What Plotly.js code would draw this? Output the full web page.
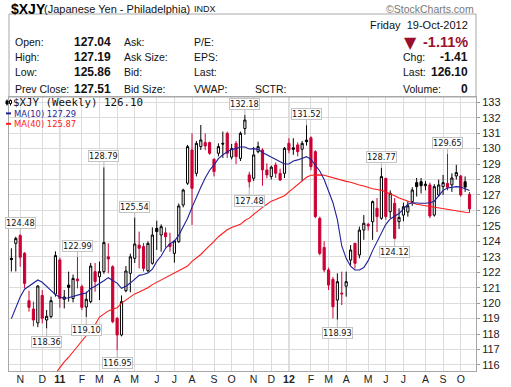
<!DOCTYPE html>
<html><head><meta charset="utf-8">
<script src="https://cdn.plot.ly/plotly-3.0.1.min.js"></script>
<style>html,body{margin:0;padding:0;background:#fff;overflow:hidden}</style>
</head><body><div id="chart" style="width:511px;height:387px"></div>
<script>
// ---- data ----
const weeks = [
'2010-10-22','2010-10-29','2010-11-05','2010-11-12','2010-11-19','2010-11-26','2010-12-03','2010-12-10','2010-12-17','2010-12-24','2010-12-31',
'2011-01-07','2011-01-14','2011-01-21','2011-01-28','2011-02-04','2011-02-11','2011-02-18','2011-02-25','2011-03-04','2011-03-11','2011-03-18','2011-03-25',
'2011-04-01','2011-04-08','2011-04-15','2011-04-22','2011-04-29','2011-05-06','2011-05-13','2011-05-20','2011-05-27','2011-06-03','2011-06-10','2011-06-17','2011-06-24',
'2011-07-01','2011-07-08','2011-07-15','2011-07-22','2011-07-29','2011-08-05','2011-08-12','2011-08-19','2011-08-26','2011-09-02','2011-09-09','2011-09-16','2011-09-23','2011-09-30',
'2011-10-07','2011-10-14','2011-10-21','2011-10-28','2011-11-04','2011-11-11','2011-11-18','2011-11-25','2011-12-02','2011-12-09','2011-12-16','2011-12-23','2011-12-30',
'2012-01-06','2012-01-13','2012-01-20','2012-01-27','2012-02-03','2012-02-10','2012-02-17','2012-02-24','2012-03-02','2012-03-09','2012-03-16','2012-03-23','2012-03-30',
'2012-04-06','2012-04-13','2012-04-20','2012-04-27','2012-05-04','2012-05-11','2012-05-18','2012-05-25','2012-06-01','2012-06-08','2012-06-15','2012-06-22','2012-06-29',
'2012-07-06','2012-07-13','2012-07-20','2012-07-27','2012-08-03','2012-08-10','2012-08-17','2012-08-24','2012-08-31','2012-09-07','2012-09-14','2012-09-21','2012-09-28',
'2012-10-05','2012-10-12','2012-10-19'];

const open = [
122.90,123.87,124.37,123.23,120.16,119.62,118.72,120.50,118.91,119.13,120.59,
122.80,120.25,121.17,120.30,121.56,121.07,119.75,120.10,122.04,121.71,122.04,123.00,
122.36,119.02,117.94,120.81,121.93,122.90,123.76,123.66,122.10,122.58,124.84,124.41,124.55,
123.83,123.22,123.98,126.35,127.76,129.91,128.40,130.13,130.39,130.39,129.31,129.70,130.34,130.99,
129.45,130.34,129.37,131.30,128.30,128.08,129.80,129.91,128.62,128.19,128.94,128.40,128.40,
130.34,130.05,130.24,129.96,130.55,130.70,129.80,125.49,123.60,122.15,121.54,120.20,120.65,
121.10,122.79,123.87,123.12,124.73,125.10,125.27,126.14,125.49,128.08,125.92,126.46,125.27,
125.70,125.90,126.57,127.80,127.86,127.60,127.65,125.70,127.00,127.54,127.75,127.65,128.23,
128.23,127.86,127.04];
const high = [
123.55,124.30,124.48,123.30,120.81,120.10,121.15,120.85,119.56,120.42,123.35,
122.95,120.85,122.04,121.85,122.99,121.20,120.75,122.60,122.60,122.69,128.79,123.87,
122.45,119.10,120.50,122.40,123.20,125.54,124.63,123.90,124.00,124.90,125.34,125.10,124.90,
124.56,124.09,126.45,127.40,130.24,130.99,130.50,131.53,130.99,130.45,129.37,130.34,131.10,131.10,
130.30,130.50,131.10,132.18,128.50,130.10,130.45,130.02,129.05,128.90,129.10,128.70,130.10,
130.67,130.67,130.40,130.50,131.52,130.80,129.90,125.60,124.00,122.30,121.70,121.93,122.04,
122.04,123.76,123.90,124.95,125.70,125.20,126.64,126.80,128.77,128.10,127.30,126.80,126.14,
126.50,126.60,127.50,128.10,128.10,127.90,127.80,127.70,128.00,128.30,129.65,128.40,128.95,
128.30,128.20,127.19];
const low = [
122.05,122.05,122.36,120.96,119.45,118.50,118.45,118.69,118.36,119.02,120.42,
119.70,119.66,120.10,120.05,120.96,119.55,119.10,120.00,120.74,120.20,121.90,121.93,
118.70,116.95,117.85,120.70,120.70,122.60,122.25,122.05,122.00,122.50,123.44,123.33,123.60,
123.33,122.62,123.90,126.20,127.65,125.06,128.20,129.91,129.90,129.60,128.20,129.50,129.40,129.40,
129.30,129.00,129.20,130.90,127.48,127.90,129.70,127.60,128.08,128.00,128.10,127.90,128.10,
129.70,129.60,129.50,127.90,130.20,128.60,125.50,123.10,122.00,120.85,119.02,118.93,119.88,
120.42,122.47,122.25,122.90,124.10,124.70,124.10,124.60,125.40,125.40,125.50,124.12,124.80,
125.30,125.60,126.30,126.90,127.10,127.30,125.50,125.60,126.90,127.00,127.30,127.20,128.00,
126.90,127.20,125.86];
const close = [
122.82,124.19,122.97,121.28,119.73,118.91,121.11,119.02,119.15,120.16,123.08,
120.31,120.40,121.02,121.60,121.45,119.73,120.25,122.40,121.40,122.04,123.92,122.86,
118.80,117.94,120.10,122.08,123.00,123.83,123.55,122.25,123.87,124.41,124.63,124.95,124.30,
123.66,124.02,126.29,127.32,130.13,127.43,130.34,130.56,130.17,129.70,128.51,130.13,130.30,129.70,
130.00,129.48,130.99,131.85,127.85,129.59,130.13,128.62,128.30,128.80,128.40,127.97,130.02,
129.91,129.96,129.80,130.34,130.45,128.83,125.60,123.22,122.15,121.17,119.77,121.39,120.60,
121.39,123.44,122.58,124.73,125.17,125.00,126.57,125.60,128.19,125.60,127.11,124.20,125.55,
126.24,126.30,127.32,127.54,127.60,127.70,125.64,127.54,127.65,127.80,127.50,128.10,128.45,
127.00,127.51,126.10];
const prevCloseBeforeFirst = 122.5;

const ma10 = [
119.0,119.7,120.4,120.9,121.1,121.3,121.5,121.35,121.1,120.85,120.55,
120.4,120.3,120.35,120.45,120.5,120.6,120.65,120.95,121.1,121.25,121.45,121.65,
121.5,121.3,120.96,121.1,121.3,121.55,121.8,121.85,121.95,122.2,122.7,123.05,123.55,
123.85,124.0,124.4,124.95,125.5,126.2,126.9,127.5,128.1,128.6,128.95,129.35,129.6,129.8,
129.95,130.0,130.1,130.1,129.98,130.0,129.95,129.75,129.6,129.4,129.25,129.15,129.0,
129.0,129.2,129.27,129.35,129.48,129.3,128.9,128.55,128.0,127.3,126.5,125.4,123.7,
122.9,122.4,122.15,122.15,122.3,122.75,123.4,124.0,124.5,125.1,125.45,125.65,125.8,
126.1,126.4,126.5,126.46,126.46,126.46,126.5,126.6,126.95,127.3,127.45,127.5,127.54,
127.52,127.42,127.29];
const ma40 = [
null,null,null,null,null,null,null,null,null,null,115.45,
115.85,116.2,116.5,116.85,117.2,117.5,117.85,118.25,118.6,119.1,119.3,119.5,
119.6,119.7,120.0,120.2,120.42,120.6,120.72,120.85,121.0,121.2,121.35,121.45,121.6,
121.8,121.95,122.1,122.25,122.4,122.7,122.9,123.15,123.45,123.7,124.0,124.3,124.55,124.75,
124.9,125.0,125.1,125.35,125.5,125.75,126.0,126.2,126.4,126.6,126.7,126.8,126.95,
127.2,127.45,127.7,127.95,128.15,128.28,128.3,128.3,128.28,128.2,128.1,128.0,127.95,
127.88,127.82,127.72,127.65,127.58,127.47,127.4,127.35,127.3,127.2,127.1,126.95,126.8,
126.7,126.58,126.48,126.4,126.35,126.3,126.24,126.2,126.15,126.1,126.04,126.0,125.95,
125.92,125.88,125.87];

// labelled highs / lows: index into weeks, which side
const labelIndex = [2, 8, 15, 17, 21, 24, 28, 53, 54, 67, 74, 84, 87, 99];
const labelSide  = ['high','low','high','low','high','low','high','high','low','high','low','high','low','high'];

const monthTickVals = ['2010-11-05','2010-12-10','2011-01-07','2011-02-11','2011-03-11','2011-04-08','2011-05-06','2011-06-10','2011-07-08','2011-08-05','2011-09-09','2011-10-07','2011-11-11','2011-12-09','2012-01-06','2012-02-10','2012-03-09','2012-04-06','2012-05-11','2012-06-08','2012-07-06','2012-08-10','2012-09-07','2012-10-05'];
const monthTickText = ['N','D','<b>11</b>','F','M','A','M','J','J','A','S','O','N','D','<b>12</b>','F','M','A','M','J','J','A','S','O'];
const yearTickVals = ['2011-01-07','2012-01-06'];

const headerTitle = '$XJY', headerName = '(Japanese Yen - Philadelphia)', headerExch = 'INDX';
const headerDate = 'Friday  19-Oct-2012';
const col1Labels = ['Open:','High:','Low:','Prev Close:'];
const col1Values = ['127.04','127.19','125.86','127.51'];
const col2Labels = ['Ask:','Ask Size:','Bid:','Bid Size:'];
const col3Labels = ['P/E:','EPS:','Last:','VWAP:'];
const pctChange = '-1.11%';
const rightLabels = ['Chg:','Last:','Volume:'];
const rightValues = ['-1.41','126.10','0'];
const legendMain = '$XJY (Weekly) 126.10';
const legendMA10 = 'MA(10) 127.29';
const legendMA40 = 'MA(40) 125.87';

// ---- build ----
const RED = '#cc0033', BLACK = '#000000';
const idxBlack = [], idxRed = [];
close.forEach((c, i) => {
  const pc = i === 0 ? prevCloseBeforeFirst : close[i - 1];
  (c >= pc ? idxBlack : idxRed).push(i);
});
const pick = (arr, idx) => idx.map(i => arr[i]);
function candleTrace(idx, color) {
  return {
    type: 'candlestick', x: pick(weeks, idx), open: pick(open, idx), high: pick(high, idx),
    low: pick(low, idx), close: pick(close, idx), whiskerwidth: 0, line: {width: 1},
    increasing: {line: {color: color, width: 1}, fillcolor: '#ffffff'},
    decreasing: {line: {color: color, width: 1}, fillcolor: color},
    hoverinfo: 'skip', showlegend: false
  };
}
const traces = [
  candleTrace(idxBlack, BLACK),
  candleTrace(idxRed, RED),
  {type: 'scatter', mode: 'lines', x: weeks, y: ma40, line: {color: '#ff1a1a', width: 1.1}, hoverinfo: 'skip', connectgaps: false},
  {type: 'scatter', mode: 'lines', x: weeks, y: ma10, line: {color: '#1f1f99', width: 1.1}, hoverinfo: 'skip'}
];

// pixel helpers (plot area: x 9..476, y 97..371)
const L = 9, R = 476, T = 97, B = 371;
const px = x => (x - L) / (R - L);
const py = y => (B - y) / (B - T);
const ARIAL = 'Liberation Sans, Arial, sans-serif';
const VERD = 'DejaVu Sans, Verdana, sans-serif';

const ann = [];
function txt(text, x, y, opt) {
  ann.push(Object.assign({text: text, xref: 'paper', yref: 'paper', x: px(x), y: py(y), showarrow: false,
    xanchor: 'left', yanchor: 'middle', font: {family: ARIAL, size: 10.5, color: '#111'}}, opt || {}));
}
// header
txt(headerTitle, 9, 8.5, {font: {family: ARIAL, size: 14, color: '#000'}, text: '<b>' + headerTitle + '</b>'});
txt(headerName, 42, 8.5, {font: {family: ARIAL, size: 11, color: '#111'}});
txt(headerExch, 192, 9, {font: {family: ARIAL, size: 9, color: '#111'}});
txt('©StockCharts.com', 476, 8.5, {xanchor: 'right', font: {family: ARIAL, size: 10.5, color: '#777'}});
txt(headerDate, 470, 25, {xanchor: 'right', font: {family: ARIAL, size: 11, color: '#111'}});
const rowY = [41.7, 56.7, 72.3, 89.3];
rowY.forEach((y, r) => {
  txt(col1Labels[r], 13, y);
  txt('<b>' + col1Values[r] + '</b>', 113, y, {xanchor: 'right', font: {family: ARIAL, size: 12, color: '#111'}});
  txt(col2Labels[r], 122, y);
  txt(col3Labels[r], 192, y);
});
txt('SCTR:', 253, rowY[3]);
txt('▼', 402, rowY[0] + 0.5, {font: {family: VERD, size: 16, color: '#99102e'}});
txt('<b>' + pctChange + '</b>', 470, rowY[0], {xanchor: 'right', font: {family: ARIAL, size: 14.5, color: '#99102e'}});
rightLabels.forEach((lab, r) => {
  txt(lab, 401, rowY[r + 1]);
  txt('<b>' + rightValues[r] + '</b>', 470, rowY[r + 1], {xanchor: 'right', font: {family: ARIAL, size: 12, color: '#111'}});
});
// legend
txt(legendMain, 11, 102.6, {font: {family: 'DejaVu Sans Mono, monospace', size: 10.8, color: '#111'}});
txt(legendMA10, 11.5, 113.6, {font: {family: VERD, size: 8.4, color: '#1f1f99'}});
txt(legendMA40, 11.5, 124.0, {font: {family: VERD, size: 8.4, color: '#ff1a1a'}});

// value labels
labelIndex.forEach((i, n) => {
  const isHigh = labelSide[n] === 'high';
  const v = isHigh ? high[i] : low[i];
  ann.push({x: weeks[i], y: v, xref: 'x', yref: 'y', text: v.toFixed(2), showarrow: true,
    arrowhead: 0, arrowwidth: 1, arrowcolor: '#b8b8b8', ax: 0, ay: isHigh ? -11 : 13, standoff: 0,
    bgcolor: '#ffffff', bordercolor: '#c4c4c4', borderwidth: 1, borderpad: 0,
    font: {family: VERD, size: 8.2, color: '#111'}});
});

const shapes = [
  {type: 'rect', xref: 'paper', yref: 'paper', x0: 0, x1: 1, y0: 1, y1: py(14), line: {color: '#a8a8a8', width: 1}},
  // legend dashes
  {type: 'line', xref: 'paper', yref: 'paper', x0: px(6), x1: px(11), y0: py(113.4), y1: py(113.4), line: {color: '#1f1f99', width: 2}},
  {type: 'line', xref: 'paper', yref: 'paper', x0: px(6), x1: px(11), y0: py(123.8), y1: py(123.8), line: {color: '#ff1a1a', width: 2}},
  // legend candle icon
  {type: 'line', xref: 'paper', yref: 'paper', x0: px(7), x1: px(7), y0: py(99.5), y1: py(105.5), line: {color: '#000', width: 1}},
  {type: 'rect', xref: 'paper', yref: 'paper', x0: px(6), x1: px(8), y0: py(101), y1: py(104), fillcolor: '#000', line: {color: '#000', width: 1}},
  {type: 'line', xref: 'paper', yref: 'paper', x0: px(10.5), x1: px(10.5), y0: py(99.5), y1: py(105.5), line: {color: '#000', width: 1}},
  {type: 'rect', xref: 'paper', yref: 'paper', x0: px(9.5), x1: px(11.5), y0: py(100.5), y1: py(103.5), fillcolor: '#fff', line: {color: '#000', width: 1}}
];
yearTickVals.forEach(d => shapes.push({type: 'line', xref: 'x', yref: 'paper', x0: d, x1: d, y0: 0, y1: 1, layer: 'below', line: {color: '#b4b4b4', width: 1}}));

const layout = {
  width: 511, height: 387,
  margin: {l: L, r: 511 - R, t: T, b: 387 - B, pad: 0},
  paper_bgcolor: '#fff', plot_bgcolor: '#fff',
  showlegend: false, boxgap: 0.3, hovermode: false,
  xaxis: {type: 'date', range: ['2010-10-18 05:00', '2012-10-29 07:00'], tickmode: 'array',
    tickvals: monthTickVals, ticktext: monthTickText, showgrid: true, gridcolor: '#dcdcdc', gridwidth: 1,
    ticks: '', ticklabelstandoff: -2, tickfont: {family: ARIAL, size: 10.5, color: '#222'},
    showline: true, linecolor: '#a8a8a8', linewidth: 1, mirror: true, zeroline: false,
    rangeslider: {visible: false}, fixedrange: true},
  yaxis: {side: 'right', range: [115.61, 133.34], tickmode: 'linear', tick0: 116, dtick: 1,
    showgrid: true, gridcolor: '#dcdcdc', gridwidth: 1, ticks: 'outside', ticklen: 3, tickcolor: '#999',
    tickfont: {family: ARIAL, size: 11, color: '#222'}, showline: true, linecolor: '#a8a8a8', linewidth: 1,
    mirror: true, zeroline: false, fixedrange: true},
  annotations: ann, shapes: shapes
};
Plotly.newPlot('chart', traces, layout, {staticPlot: true, displayModeBar: false});
</script></body></html>
